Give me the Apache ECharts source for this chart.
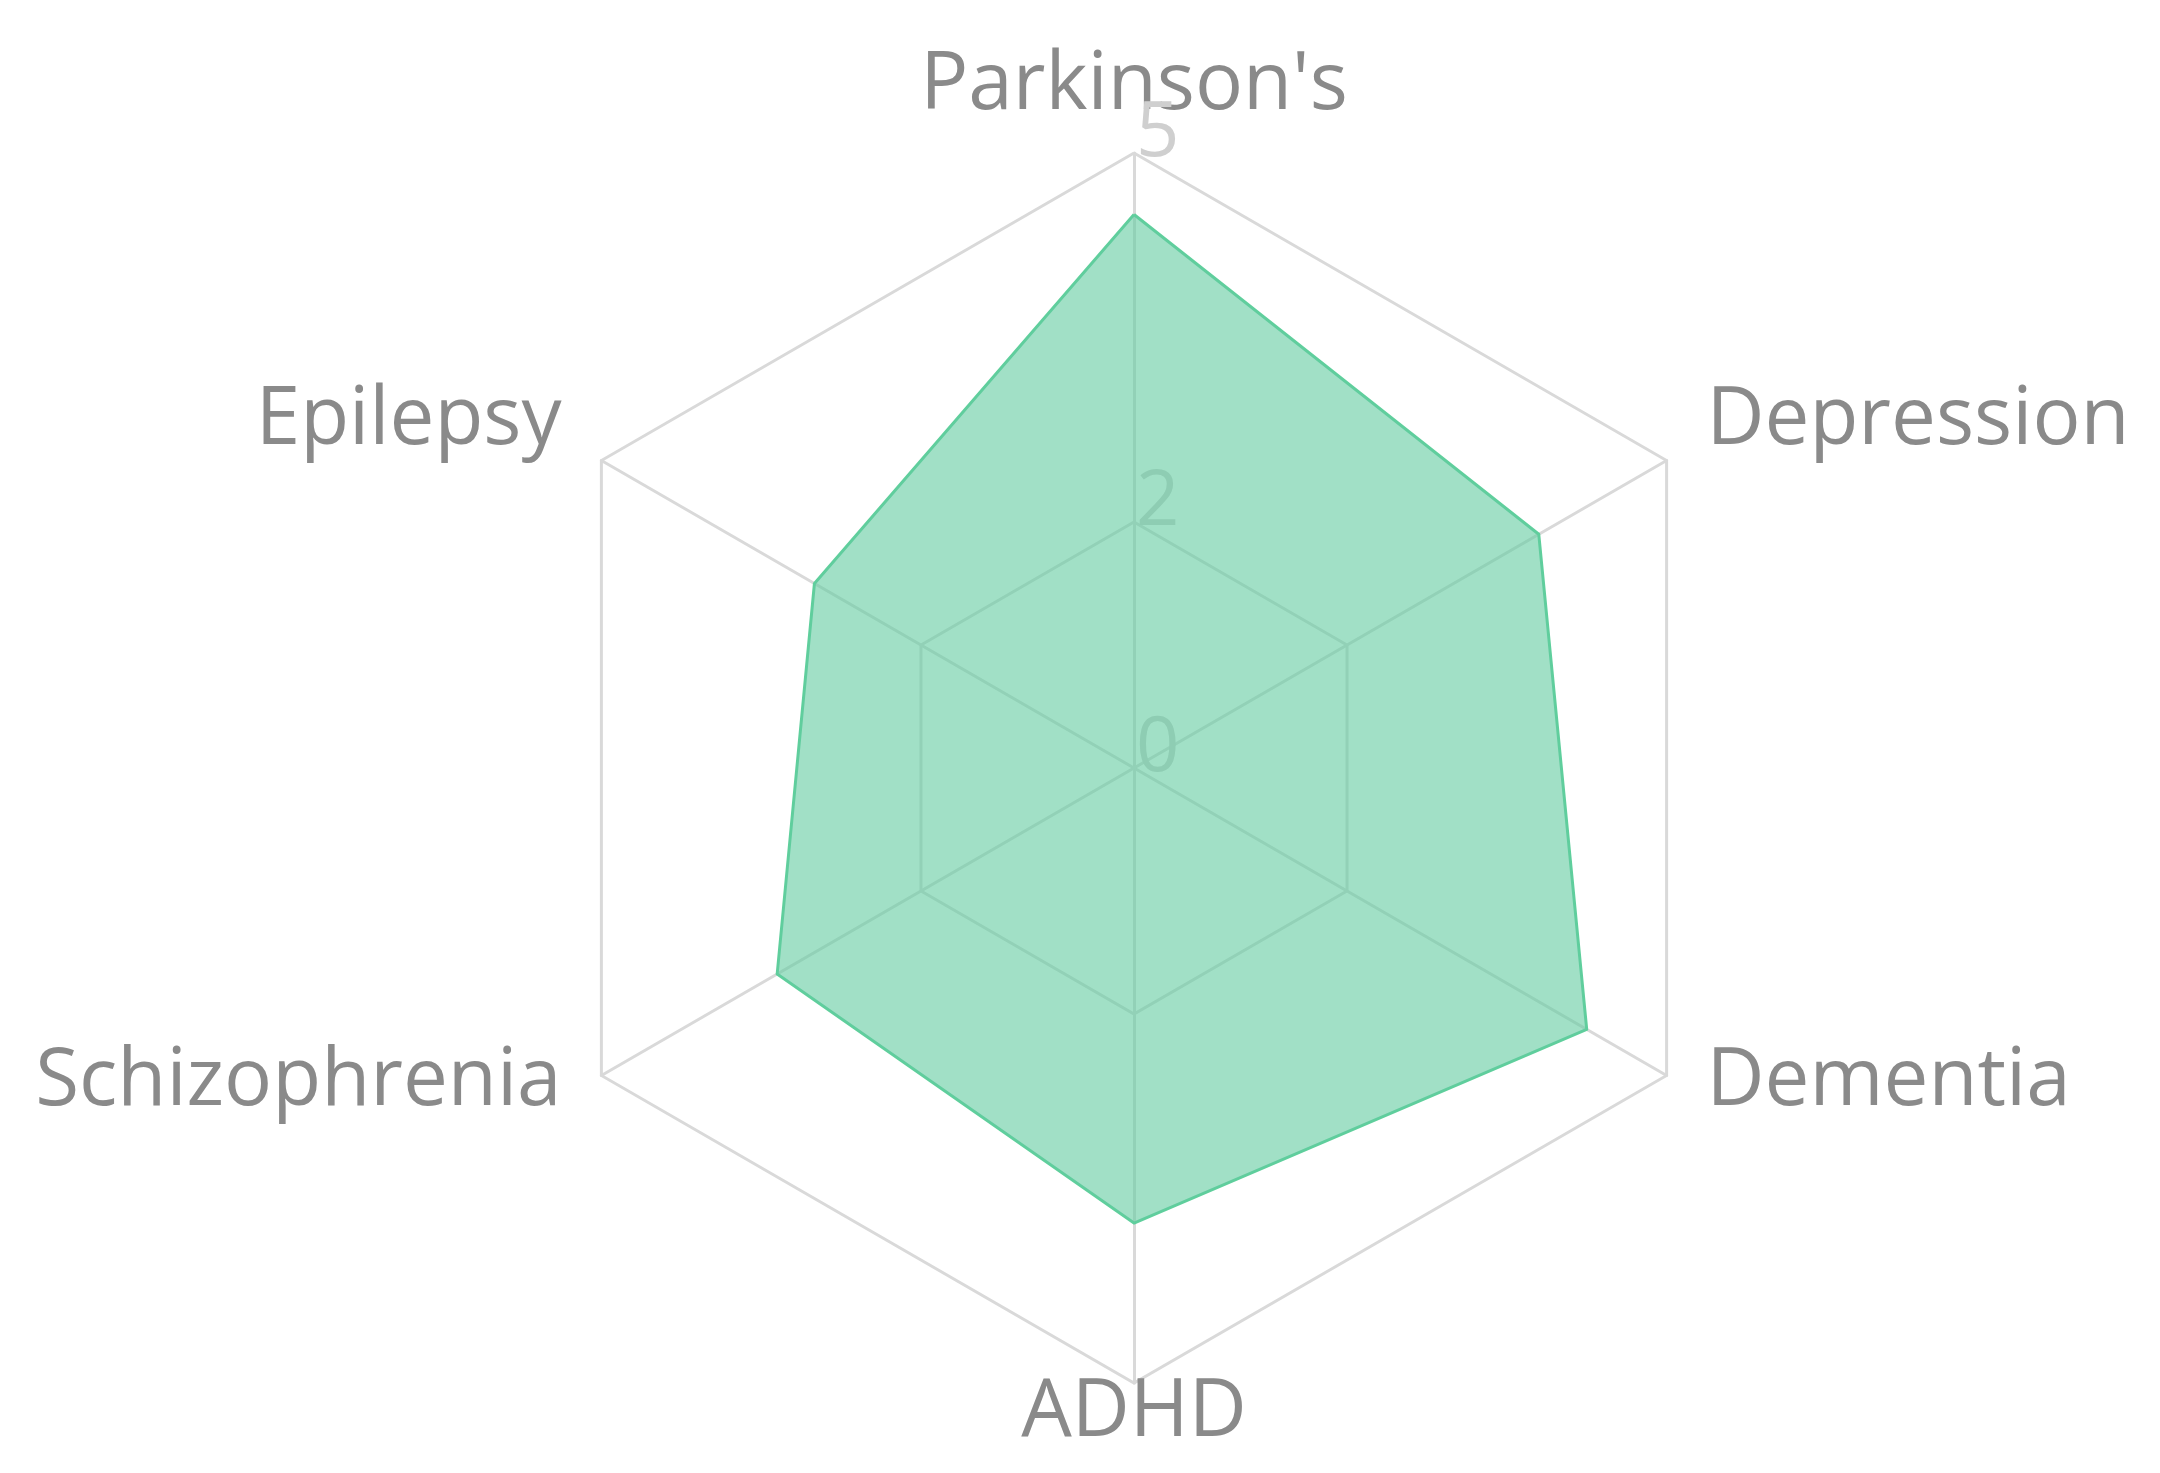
<!DOCTYPE html>
<html>
<head>
<meta charset="utf-8">
<script src="https://cdn.jsdelivr.net/npm/echarts@6/dist/echarts.min.js"></script>
<style>
html,body{margin:0;padding:0;background:#fff;}
#chart{width:2160px;height:1473px;}
</style>
</head>
<body>
<div id="chart"></div>
<script>
// Categories listed clockwise from the top, as in the picture
const indicatorNames = ["Parkinson's", "Depression", "Dementia", "ADHD", "Schizophrenia", "Epilepsy"];
const indicatorMax = 5;
const seriesValues = [4.5, 3.8, 4.25, 3.7, 3.35, 3.0];
const shownTickLabels = [0, 2, 5];
const ringColors = ['#d9d9d9', 'rgba(0,0,0,0)', '#d9d9d9', 'rgba(0,0,0,0)', 'rgba(0,0,0,0)', '#d9d9d9'];
const sideNames = ["Depression", "Dementia", "Schizophrenia", "Epilepsy"];

const chart = echarts.init(document.getElementById('chart'), null, {renderer: 'canvas'});

// ECharts radar goes counter-clockwise; reorder so the picture reads clockwise
const order = [0, 5, 4, 3, 2, 1];

const indicators = order.map((k, pos) => {
  const o = {name: indicatorNames[k], max: indicatorMax, min: 0, nameMoveOverlap: false};
  if (pos === 0) {
    o.nameGap = 27;
    o.axisLabel = {
      show: true,
      color: '#cfcfcf',
      fontSize: 76,
      fontFamily: 'Open Sans',
      align: 'left',
      verticalAlign: 'bottom',
      lineHeight: 38,
      margin: -2,
      formatter: function (v) { return shownTickLabels.indexOf(Math.round(v * 100) / 100) >= 0 ? String(v) : ''; }
    };
  } else if (pos === 3) {
    o.nameGap = -10;
  } else {
    o.nameGap = 46;
  }
  return o;
});

chart.setOption({
  backgroundColor: '#ffffff',
  animation: false,
  radar: {
    center: [1134, 768],
    radius: 615,
    startAngle: 90,
    splitNumber: 5,
    shape: 'polygon',
    indicator: indicators,
    axisName: {
      color: '#8a8a8a',
      fontSize: 80,
      fontFamily: 'Open Sans',
      formatter: function (name) {
        return sideNames.indexOf(name) >= 0 ? name + '\n{g| }' : name;
      },
      rich: {
        g: {fontSize: 10, lineHeight: 33}
      }
    },
    nameGap: 14,
    axisLine: {lineStyle: {color: '#d9d9d9', width: 3}},
    splitLine: {lineStyle: {color: ringColors, width: 3}},
    splitArea: {show: false},
    axisTick: {show: false},
    axisLabel: {show: false}
  },
  series: [{
    type: 'radar',
    symbol: 'none',
    lineStyle: {color: '#5fcf9c', width: 3},
    areaStyle: {color: '#62cba0', opacity: 0.6},
    data: [{value: order.map(k => seriesValues[k]), name: 'Score'}]
  }]
});
</script>
</body>
</html>
